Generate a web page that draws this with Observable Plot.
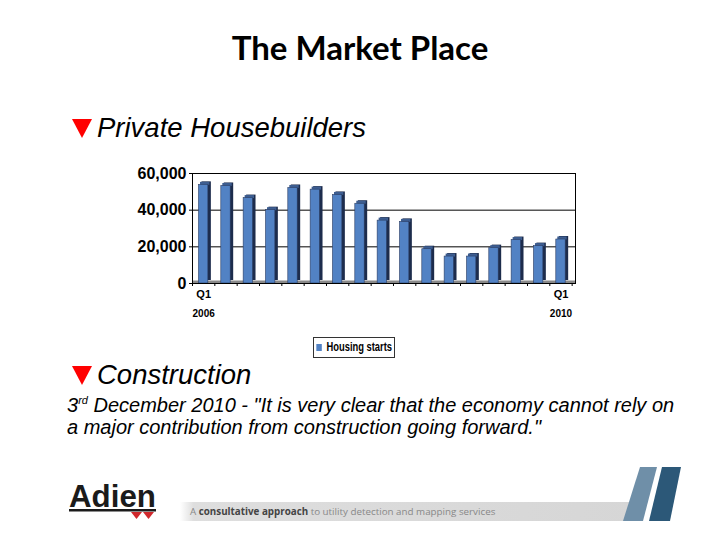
<!DOCTYPE html>
<html>
<head>
<meta charset="utf-8">
<script src="https://cdn.jsdelivr.net/npm/d3@7"></script>
<script src="https://cdn.jsdelivr.net/npm/@observablehq/plot@0.6"></script>
<style>
  html, body { margin: 0; padding: 0; background: #fff; }
  #page { position: relative; width: 720px; height: 540px; overflow: hidden; font-family: "Liberation Sans", Arial, sans-serif; }
  .abs { position: absolute; white-space: nowrap; }
  #title { left: 0; width: 720px; top: 27px; text-align: center; font: 700 33px Lato, "Open Sans", sans-serif; color: #000; }
  .bullet { font-style: italic; font-size: 27.5px; color: #000; line-height: 32px; }
  .tri { position: absolute; width: 0; height: 0; border-left: 10.5px solid transparent; border-right: 10.5px solid transparent; border-top: 19px solid #ff0000; }
  .quote { font-style: italic; font-size: 20px; color: #000; line-height: 22px; }
  #chart { left: 130px; top: 160px; }
  #legendbox { left: 313px; top: 337px; width: 80px; height: 19px; border: 1px solid #333; background: #fff; overflow: hidden; }
  #legendbox div, #legendbox span { font: bold 12px "Liberation Sans", Arial, sans-serif !important; color: #000 !important; }
  #tagline { left: 190px; top: 505px; font: 9.8px "Open Sans", sans-serif; color: #888; }
  #tagline b { color: #444; }
</style>
</head>
<body>
<div id="page">
  <div id="title" class="abs">The Market Place</div>

  <div class="tri" style="left:72px;top:119px;"></div>
  <div class="abs bullet" style="left:97px;top:112px;">Private Housebuilders</div>

  <div id="chart" class="abs"></div>
  <div id="legendbox" class="abs"></div>

  <div class="tri" style="left:72px;top:366px;"></div>
  <div class="abs bullet" style="left:97px;top:359px;">Construction</div>

  <div class="abs quote" style="left:67px;top:394px;">3<sup style="font-size:11px;vertical-align:8px;line-height:0">rd</sup> December 2010 - "It is very clear that the economy cannot rely on</div>
  <div class="abs quote" style="left:67px;top:416px;">a major contribution from construction going forward."</div>

  <!-- footer decoration -->
  <svg class="abs" style="left:0;top:460px;" width="720" height="80">
    <defs>
      <linearGradient id="band" x1="0" x2="1" y1="0" y2="0">
        <stop offset="0" stop-color="#ffffff"/>
        <stop offset="0.03" stop-color="#dedede"/>
        <stop offset="1" stop-color="#d6d6d6"/>
      </linearGradient>
    </defs>
    <rect x="180" y="42" width="455" height="19" fill="url(#band)"/>
    <polygon points="640,7 657,7 643,61 623,61" fill="#6f8fa8"/>
    <polygon points="662,7 681,7 670,61 649,61" fill="#2c5878"/>
    <text x="69" y="47" font-family="Liberation Sans, Arial" font-weight="bold" font-size="32" fill="#1b1b1b" textLength="87" lengthAdjust="spacingAndGlyphs">Adien</text>
    <rect x="69" y="49" width="87" height="2.5" fill="#1b1b1b"/>
    <polygon points="131,52 142,52 136.5,59" fill="#d0282c"/>
    <polygon points="143,52 154,52 148.5,59" fill="#d0282c"/>
  </svg>
  <div id="tagline" class="abs">A <b>consultative approach</b> to utility detection and mapping services</div>
</div>

<script>
// ---- data ----
const quarters = ["Q1 2006","Q2 2006","Q3 2006","Q4 2006","Q1 2007","Q2 2007","Q3 2007","Q4 2007",
                  "Q1 2008","Q2 2008","Q3 2008","Q4 2008","Q1 2009","Q2 2009","Q3 2009","Q4 2009","Q1 2010"];
const housingStarts = [53800, 53200, 46600, 40000, 52100, 51200, 48300, 43500,
                       34300, 33600, 18700, 14700, 14700, 19300, 23700, 20400, 24000];
const yTicks = [0, 20000, 40000, 60000];
const labelIndex = [0, 16];
const quarterLabels = ["Q1", "Q1"];
const yearLabels = ["2006", "2010"];
const seriesName = "Housing starts";

const data = quarters.map((q, i) => ({q, i, v: housingStarts[i]}));
const boundaries = d3.range(-0.5, quarters.length, 1);

const frontColor = "#5282c4", sideColor = "#1d2c4c", topColor = "#3d5d90";
const half = 0.21;

const chart = Plot.plot({
  width: 450,
  height: 170,
  marginLeft: 62,
  marginRight: 5,
  marginTop: 13,
  marginBottom: 47,
  style: {background: "transparent", color: "#000"},
  x: {type: "linear", domain: [-0.5, 16.65], axis: null},
  y: {domain: [0, 60000], axis: null},
  marks: [
    Plot.gridY({ticks: yTicks.slice(1), stroke: "#000", strokeOpacity: 1, strokeWidth: 1}),
    Plot.ruleY([0], {stroke: "#8a8a8a", strokeWidth: 3, dy: -1.5}),
    Plot.rectY(data, {x1: d => d.i - half, x2: d => d.i + half, y: "v", fill: sideColor, dx: 3, dy: -3}),
    Plot.ruleY(data, {x1: d => d.i - half, x2: d => d.i + half, y: "v", stroke: topColor, strokeWidth: 3, dx: 1.5, dy: -1.5}),
    Plot.rectY(data, {x1: d => d.i - half, x2: d => d.i + half, y: "v", fill: frontColor, stroke: "#2b3d63", strokeWidth: 0.6}),
    Plot.frame({stroke: "#000", strokeWidth: 1}),
    Plot.axisY({ticks: yTicks, tickFormat: d3.format(","), tickSize: 3, tickPadding: 3,
                fontSize: 16, fontWeight: "bold", fontFamily: "Liberation Sans, Arial, sans-serif", label: null}),
    Plot.axisX({ticks: boundaries, tickFormat: () => "", tickSize: 3, label: null}),
    Plot.axisX({ticks: labelIndex, tickFormat: (d, k) => quarterLabels[k], tickSize: 0, tickPadding: 7,
                fontSize: 11, fontWeight: "bold", fontFamily: "Liberation Sans, Arial, sans-serif", label: null}),
    Plot.axisX({ticks: labelIndex, tickFormat: (d, k) => yearLabels[k], tickSize: 0, tickPadding: 26,
                fontSize: 10, fontWeight: "bold", fontFamily: "Liberation Sans, Arial, sans-serif", label: null})
  ]
});
document.getElementById("chart").appendChild(chart);

const legend = Plot.legend({
  color: {type: "categorical", domain: [seriesName], range: [frontColor]},
  swatchSize: 7
});
legend.style.margin = "0";
legend.style.padding = "2px 0 0 3px";
legend.style.minHeight = "0";
legend.style.transform = "scaleX(0.78)";
legend.style.transformOrigin = "0 0";
legend.style.whiteSpace = "nowrap";
document.getElementById("legendbox").appendChild(legend);
</script>
</body>
</html>
